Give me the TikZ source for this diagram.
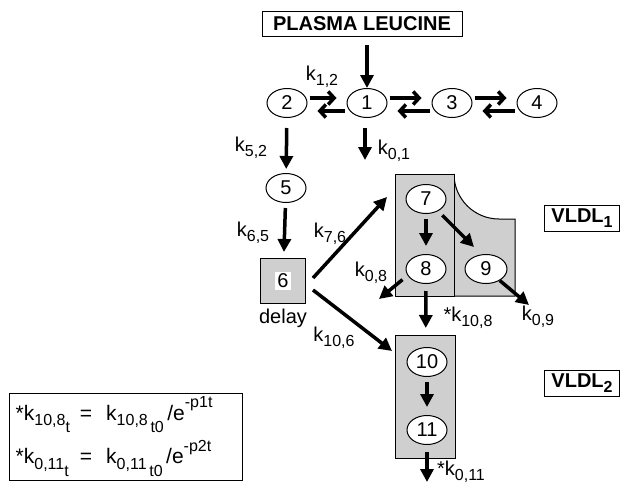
\documentclass[tikz,border=0pt]{standalone}
\usepackage{fontspec}
\setmainfont{Liberation Sans}
\usetikzlibrary{arrows.meta,shapes.geometric,positioning}
\newcommand{\subsz}{\fontsize{16}{16}\selectfont}
\newcommand{\kk}[1]{k\raisebox{-0.5ex}{\subsz #1}}
\newcommand{\sub}[1]{\raisebox{-0.5ex}{\subsz #1}}

\begin{document}
\begin{tikzpicture}[x=1pt, y=-1pt, font=\fontsize{20}{20}\selectfont,
		pool/.style={draw, ellipse, fill=white, line width=1pt, minimum width=40pt, minimum height=29pt, inner sep=0pt},
		flow/.style={-{Triangle[length=13pt,width=13pt]}, line width=3.5pt},
		swap/.style={-{Straight Barb[length=6pt,width=13pt]}, line width=3.5pt},
		namebox/.style={draw, line width=1pt, inner sep=0pt, font=\fontsize{20}{20}\selectfont\bfseries},
		shade/.style={draw, line width=1pt, fill=gray!38}]
	\useasboundingbox (0,0) rectangle (629,490);
	% plasma and first pools
	\node[namebox, minimum width=200pt, minimum height=25pt] (plasma) at (362,24) {PLASMA LEUCINE};
	\node[pool] (p2) at (287,103) {2};
	\node[pool] (p1) at (367,103) {1};
	\node[pool] (p3) at (452,103) {3};
	\node[pool] (p4) at (537,103) {4};
	\node[pool] (p5) at (286,188) {5};
	\node[shade, minimum size=45pt] (d6) at (283,281) {};
	\node[fill=white, inner sep=2pt] (d6num) at (d6) {6};
	\node[below=1pt of d6] (delay) {delay};
	% VLDL1 and VLDL2 compartments
	\draw[shade] (454,174) arc[start angle=180, end angle=90, radius=45] -- (515,219) -- (515,296) -- (454,296) -- cycle;
	\node[shade, anchor=north west, minimum width=59pt, minimum height=122pt] (v1) at (395,174) {};
	\node[shade, anchor=north west, minimum width=60pt, minimum height=123pt] (v2) at (395,335) {};
	\node[pool] (p7) at (426,199) {7};
	\node[pool] (p8) at (426,269) {8};
	\node[pool, minimum width=42pt] (p9) at (486,269) {9};
	\node[pool] (p10) at (427,362) {10};
	\node[pool] (p11) at (427,430) {11};
	\node[namebox, minimum width=75pt, minimum height=26pt] (vl1) at (582,218) {VLDL\sub{1}};
	\node[namebox, minimum width=75pt, minimum height=26pt] (vl2) at (582,383) {VLDL\sub{2}};
	% free ends
	\coordinate (out1) at (365,160);
	\coordinate (in7) at (387,197);
	\coordinate (in10) at (392,351);
	\coordinate (to9) at (474,247);
	\coordinate (out8) at (379,299);
	\coordinate (out9) at (529,305);
	\coordinate (out11) at (427,482);
	% connectors
	\draw[flow, shorten <=8pt] (plasma.south -| p1.north) -- (p1.north);
	\draw[swap, shorten <=2pt, shorten >=10pt] ([yshift=5pt]p2.east) -- ([yshift=5pt]p1.west);
	\draw[swap, shorten <=2pt, shorten >=10pt] ([yshift=-8pt]p1.west) -- ([yshift=-8pt]p2.east);
	\draw[swap, shorten <=2pt, shorten >=10pt] ([yshift=5pt]p1.east) -- ([yshift=5pt]p3.west);
	\draw[swap, shorten <=2pt, shorten >=10pt] ([yshift=-8pt]p3.west) -- ([yshift=-8pt]p1.east);
	\draw[swap, shorten <=2pt, shorten >=10pt] ([yshift=5pt]p3.east) -- ([yshift=5pt]p4.west);
	\draw[swap, shorten <=2pt, shorten >=10pt] ([yshift=-8pt]p4.west) -- ([yshift=-8pt]p3.east);
	\draw[flow, shorten <=10pt, shorten >=4pt] (p2) -- (p5);
	\draw[flow, shorten <=10pt] (p1.south -| out1) -- (out1);
	\draw[flow, shorten <=5pt, shorten >=6pt] (p5) -- (d6);
	\draw[flow] ([xshift=7pt,yshift=3pt]d6.east) -- (in7);
	\draw[flow] ([xshift=7pt,yshift=-9pt]d6.east) -- (in10);
	\draw[flow, shorten <=5pt, shorten >=8pt] (p7) -- (p8);
	\draw[flow, shorten <=6pt] (p7) -- (to9);
	\draw[flow] ([xshift=-9pt]p8.south west) -- (out8);
	\draw[flow, shorten <=7pt, shorten >=7pt] (p8) -- (v2);
	\draw[flow] (p9.-40) -- (out9);
	\draw[flow, shorten <=5pt, shorten >=8pt] (p10) -- (p11);
	\draw[flow, shorten <=7pt] (p11) -- (out11);
	% rate labels
	\node (k12) at (322,77) {\kk{1,2}};
	\node (k52) at (251,148) {\kk{5,2}};
	\node (k01) at (394,151) {\kk{0,1}};
	\node (k65) at (253,233) {\kk{6,5}};
	\node (k76) at (330,234) {\kk{7,6}};
	\node (k08) at (371,273) {\kk{0,8}};
	\node (k106) at (334,338) {\kk{10,6}};
	\node (k108) at (468,318) {*\kk{10,8}};
	\node (k09) at (538,317) {\kk{0,9}};
	\node (k011) at (461,472) {*\kk{0,11}};
	% time dependence
	\node[draw, line width=1pt, minimum width=233pt, minimum height=87pt] (eqbox) at (125.5,436.5) {};
	\node[anchor=west, inner sep=0pt, font=\fontsize{21}{21}\selectfont] (eqtext) at ([xshift=7pt]eqbox.west)
		{\begin{tabular}{@{}l@{\hspace{10pt}=\hspace{14pt}}l@{}}
			*k\sub{10,8\raisebox{-0.8ex}{t}} & k\sub{10,8\,\raisebox{-0.8ex}{t0}}\,/e\raisebox{1.1ex}{\subsz -p1t}\\[14pt]
			*k\sub{0,11\raisebox{-0.8ex}{t}} & k\sub{0,11\,\raisebox{-0.8ex}{t0}}\,/e\raisebox{1.1ex}{\subsz -p2t}
		\end{tabular}};
\end{tikzpicture}
\end{document}
